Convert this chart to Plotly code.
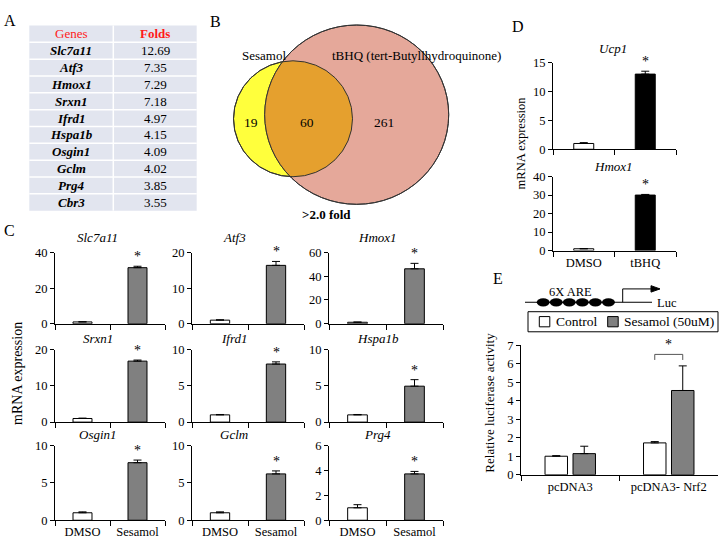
import numpy as np
import plotly.graph_objects as go

W, H = 725, 548
FONT = "Liberation Serif"
GREY = "#808080"


def px(x):
    return x / W


def py(y):
    return 1 - y / H


# ---------------- data ----------------
# Panel A
genes = ["Slc7a11", "Atf3", "Hmox1", "Srxn1", "Ifrd1", "Hspa1b", "Osgin1", "Gclm", "Prg4", "Cbr3"]
folds = [12.69, 7.35, 7.29, 7.18, 4.97, 4.15, 4.09, 4.02, 3.85, 3.55]
table_header = ["Genes", "Folds"]

# Panel B
venn_labels = ["Sesamol", "tBHQ (tert-Butyllhydroquinone)"]
venn_counts = [19, 60, 261]
venn_note = ">2.0 fold"

# Panel C
c_genes = ["Slc7a11", "Atf3", "Hmox1", "Srxn1", "Ifrd1", "Hspa1b", "Osgin1", "Gclm", "Prg4"]
c_groups = ["DMSO", "Sesamol"]
c_dmso = [1.0, 1.0, 1.2, 1.0, 1.0, 1.0, 1.0, 1.0, 1.0]
c_dmso_err = [0.1, 0.1, 0.2, 0.1, 0.05, 0.05, 0.12, 0.12, 0.25]
c_ses = [31.5, 16.4, 46.3, 16.8, 8.0, 4.95, 7.7, 6.2, 3.72]
c_ses_err = [0.8, 1.1, 4.6, 0.3, 0.3, 0.9, 0.35, 0.4, 0.2]
c_ymax = [40, 20, 60, 20, 10, 10, 10, 10, 6]
c_dtick = [20, 10, 20, 10, 5, 5, 5, 5, 2]

# Panel D
d_genes = ["Ucp1", "Hmox1"]
d_groups = ["DMSO", "tBHQ"]
d_dmso = [1.0, 1.0]
d_dmso_err = [0.15, 0.05]
d_tbhq = [13.0, 30.0]
d_tbhq_err = [0.5, 0.35]
d_ymax = [15, 40]
d_dtick = [5, 10]

# Panel E
e_groups = ["pcDNA3", "pcDNA3- Nrf2"]
e_series = ["Control", "Sesamol (50uM)"]
e_control = [1.0, 1.72]
e_control_err = [0.03, 0.07]
e_sesamol = [1.14, 4.55]
e_sesamol_err = [0.4, 1.33]
e_ymax = 7
e_construct = "6X ARE"
e_reporter = "Luc"

# ---------------- figure ----------------
fig = go.Figure()
axes = {}
annotations = []
shapes = []


def text(x, y, s, size=13, xanchor="center", yanchor="middle", angle=0, color="black"):
    annotations.append(dict(x=px(x), y=py(y), xref="paper", yref="paper", text=s,
                            showarrow=False, xanchor=xanchor, yanchor=yanchor,
                            textangle=angle, borderpad=0,
                            font=dict(family=FONT, size=size, color=color)))


def rect(x0, y0, x1, y1, fill, line=None, lw=1):
    shapes.append(dict(type="rect", xref="paper", yref="paper", x0=px(x0), x1=px(x1),
                       y0=py(y1), y1=py(y0), fillcolor=fill,
                       line=dict(color=line or "rgba(0,0,0,0)", width=lw if line else 0)))


def add_axes(idx, xdom, ydom, cats, ymax, dtick, show_x):
    xn = "xaxis" if idx == 1 else f"xaxis{idx}"
    yn = "yaxis" if idx == 1 else f"yaxis{idx}"
    xr = "x" if idx == 1 else f"x{idx}"
    yr = "y" if idx == 1 else f"y{idx}"
    tf = dict(family=FONT, size=12.5, color="black")
    axes[xn] = dict(domain=[px(xdom[0]), px(xdom[1])], anchor=yr, type="category",
                    categoryorder="array", categoryarray=cats, range=[-0.5, 1.5],
                    showline=True, linecolor="black", linewidth=1, ticks="outside",
                    tickson="boundaries", ticklen=5, tickcolor="black", tickwidth=1,
                    showgrid=False, zeroline=False, showticklabels=show_x, tickfont=tf,
                    fixedrange=True)
    axes[yn] = dict(domain=[py(ydom[1]), py(ydom[0])], anchor=xr, range=[0, ymax],
                    dtick=dtick, tick0=0, showline=True, linecolor="black", linewidth=1,
                    ticks="outside", ticklen=4, tickcolor="black", tickwidth=1,
                    showgrid=False, zeroline=False, tickfont=tf, fixedrange=True)
    return xr, yr


def err(arr):
    return dict(type="data", array=arr, arrayminus=[0] * len(arr), symmetric=False,
                color="black", thickness=1, width=4)


# ---- Panel A: table (drawn as cells) ----
TBG = "#e2e5ef"
tx0, tx1, tmid = 29.3, 196.7, 113.3
ty0, ty1 = 19.0, 209.0
nrows = len(genes) + 1
rh = (ty1 - ty0) / nrows
rect(tx0, ty0, tx1, ty1, TBG)
for k in range(1, nrows):
    yy = ty0 + k * rh
    shapes.append(dict(type="line", xref="paper", yref="paper", x0=px(tx0), x1=px(tx1),
                       y0=py(yy), y1=py(yy), line=dict(color="white", width=1.5)))
shapes.append(dict(type="line", xref="paper", yref="paper", x0=px(tmid), x1=px(tmid),
                   y0=py(ty0), y1=py(ty1), line=dict(color="white", width=1.5)))
cx1, cx2 = (tx0 + tmid) / 2, (tmid + tx1) / 2
text(cx1, ty0 + rh / 2, table_header[0], 13, color="#ff1a1a")
text(cx2, ty0 + rh / 2, "<b>" + table_header[1] + "</b>", 13, color="#ff1a1a")
for k, (g, f) in enumerate(zip(genes, folds)):
    yc = ty0 + (k + 1.5) * rh
    text(cx1, yc, "<b><i>" + g + "</i></b>", 13)
    text(cx2, yc, f"{f:.2f}", 13)

# ---- Panel B: Venn ----
cA, rA = (293.0, 114.7), 59.5
cB, rB = (356.7, 110.5), 92.0
YEL, PINK, ORG = "#ffff3c", "#e5a89a", "#e5a02e"


def circ(c, r, fill, line):
    return dict(type="circle", xref="paper", yref="paper",
                x0=px(c[0] - r), x1=px(c[0] + r), y0=py(c[1] + r), y1=py(c[1] - r),
                fillcolor=fill, line=dict(color=line, width=1), layer="above")


shapes.append(circ(cA, rA, YEL, "#333333"))
shapes.append(circ(cB, rB, PINK, "#333333"))
t = np.linspace(0, 2 * np.pi, 720)
ptsA = np.c_[cA[0] + rA * np.cos(t), cA[1] + rA * np.sin(t)]
ptsB = np.c_[cB[0] + rB * np.cos(t), cB[1] + rB * np.sin(t)]
inA = ptsB[np.hypot(ptsB[:, 0] - cA[0], ptsB[:, 1] - cA[1]) <= rA]
inB = ptsA[np.hypot(ptsA[:, 0] - cB[0], ptsA[:, 1] - cB[1]) <= rB]
lens = np.vstack([inA, inB])
ctr = lens.mean(axis=0)
lens = lens[np.argsort(np.arctan2(lens[:, 1] - ctr[1], lens[:, 0] - ctr[0]))]
path = "M " + " L ".join(f"{px(x):.5f},{py(y):.5f}" for x, y in lens) + " Z"
shapes.append(dict(type="path", path=path, xref="paper", yref="paper", fillcolor=ORG,
                   line=dict(width=0), layer="above"))
shapes.append(circ(cA, rA, "rgba(0,0,0,0)", "#333333"))
shapes.append(circ(cB, rB, "rgba(0,0,0,0)", "#333333"))
text(264, 49.5, venn_labels[0], 13)
text(331, 49.5, venn_labels[1], 13, xanchor="left")
text(251, 119, str(venn_counts[0]), 13.5)
text(306.5, 119, str(venn_counts[1]), 13.5)
text(384, 119, str(venn_counts[2]), 13.5)
text(326.5, 213, "<b>" + venn_note + "</b>", 13)

# ---- Panel C ----
c_cols = [(55, 165), (192, 304), (329, 443)]
c_rows = [(252, 325), (351.5, 426), (450, 526.7)]
c_title_x = [98, 234, 378]
c_title_y = [237, 340, 439]
for i, g in enumerate(c_genes):
    r, c = divmod(i, 3)
    xr, yr = add_axes(i + 1, c_cols[c], c_rows[r], c_groups, c_ymax[i], c_dtick[i], r == 2)
    fig.add_trace(go.Bar(x=c_groups, y=[c_dmso[i], c_ses[i]], xaxis=xr, yaxis=yr, width=0.345,
                         marker=dict(color=["white", GREY], line=dict(color="black", width=1)),
                         error_y=err([c_dmso_err[i], c_ses_err[i]]), showlegend=False,
                         hoverinfo="skip"))
    annotations.append(dict(x=c_groups[1], y=c_ses[i] + c_ses_err[i], xref=xr, yref=yr,
                            text="*", showarrow=False, yanchor="bottom",
                            font=dict(family=FONT, size=14, color="black")))
    text(c_title_x[c], c_title_y[r], "<i>" + g + "</i>", 13)

# ---- Panel D ----
d_rows = [(57, 146), (174, 250)]
d_title_y = [43, 164]
for j, g in enumerate(d_genes):
    idx = 10 + j
    xr, yr = add_axes(idx, (553, 676), d_rows[j], d_groups, d_ymax[j], d_dtick[j], j == 1)
    fig.add_trace(go.Bar(x=d_groups, y=[d_dmso[j], d_tbhq[j]], xaxis=xr, yaxis=yr, width=0.325,
                         marker=dict(color=["white", "black"], line=dict(color="black", width=1)),
                         error_y=err([d_dmso_err[j], d_tbhq_err[j]]), showlegend=False,
                         hoverinfo="skip"))
    annotations.append(dict(x=d_groups[1], y=d_tbhq[j] + d_tbhq_err[j], xref=xr, yref=yr,
                            text="*", showarrow=False, yanchor="bottom",
                            font=dict(family=FONT, size=14, color="black")))
    text(613, d_title_y[j], "<i>" + g + "</i>", 13)

# ---- Panel E ----
xr, yr = add_axes(12, (521, 718), (347, 480), e_groups, e_ymax, 1, True)
bw = 0.228
offs = [-0.256, 0.028]
fig.add_trace(go.Bar(x=e_groups, y=e_control, xaxis=xr, yaxis=yr, width=bw, offset=offs[0],
                     marker=dict(color="white", line=dict(color="black", width=1)),
                     error_y=err(e_control_err), name=e_series[0], showlegend=False,
                     hoverinfo="skip"))
fig.add_trace(go.Bar(x=e_groups, y=e_sesamol, xaxis=xr, yaxis=yr, width=bw, offset=offs[1],
                     marker=dict(color=GREY, line=dict(color="black", width=1)),
                     error_y=err(e_sesamol_err), name=e_series[1], showlegend=False,
                     hoverinfo="skip"))
# significance bracket on the Nrf2 group
top = max(v + e for v, e in zip(e_sesamol, e_sesamol_err))
yb = top + 0.62
xa = 1 + offs[0] + bw / 2
xb = 1 + offs[1] + bw / 2
for (x0, y0, x1, y1) in [(xa, yb, xb, yb), (xa, yb, xa, yb - 0.3), (xb, yb, xb, yb - 0.3)]:
    shapes.append(dict(type="line", xref=xr, yref=yr, x0=x0, y0=y0, x1=x1, y1=y1,
                       line=dict(color="#555555", width=1)))
annotations.append(dict(x=(xa + xb) / 2, y=yb, xref=xr, yref=yr, text="*", showarrow=False,
                        yanchor="bottom", font=dict(family=FONT, size=14, color="black")))

# construct schematic
shapes.append(dict(type="line", xref="paper", yref="paper", x0=px(525), x1=px(652),
                   y0=py(303), y1=py(303), line=dict(color="black", width=1)))
for k in range(6):
    ex = 543.2 + 13.05 * k
    shapes.append(dict(type="circle", xref="paper", yref="paper", x0=px(ex - 6.5), x1=px(ex + 6.5),
                       y0=py(307.3), y1=py(298.9), fillcolor="black", line=dict(width=0)))
shapes.append(dict(type="path", xref="paper", yref="paper",
                   path=f"M {px(622.7)},{py(303)} L {px(622.7)},{py(289.3)} L {px(652)},{py(289.3)}",
                   line=dict(color="black", width=1)))
shapes.append(dict(type="path", xref="paper", yref="paper",
                   path=f"M {px(651)},{py(286)} L {px(660)},{py(289.3)} L {px(651)},{py(292.6)} Z",
                   fillcolor="black", line=dict(color="black", width=1)))
text(570, 292.5, e_construct, 12.5)
text(656, 303.5, e_reporter, 12.5, xanchor="left")

# legend box
rect(528, 312.7, 718, 333.3, "white", "black")
rect(539.3, 317.7, 549.8, 328.2, "white", "black")
rect(607.7, 317.7, 618.2, 328.2, GREY, "black")
text(555, 323, e_series[0], 13.5, xanchor="left")
text(622.7, 323, e_series[1], 13.5, xanchor="left")

# axis titles and panel letters
text(17.5, 376, "mRNA expression", 14, angle=-90)
text(521, 140, "mRNA expression", 12.5, angle=-90)
text(490, 406, "Relative luciferase activity", 13, angle=-90)
for L, x, y in [("A", 9.5, 14), ("B", 215, 15), ("C", 9, 229), ("D", 518, 20), ("E", 498, 279)]:
    text(x, y, L, 16)

fig.update_layout(width=W, height=H, autosize=False, margin=dict(l=0, r=0, t=0, b=0),
                  paper_bgcolor="white", plot_bgcolor="rgba(0,0,0,0)", barmode="overlay",
                  showlegend=False, font=dict(family=FONT, color="black"),
                  annotations=annotations, shapes=shapes, **axes)
fig.write_html("out.html", config={"displayModeBar": False},
               post_script="document.body.style.margin='0';")
